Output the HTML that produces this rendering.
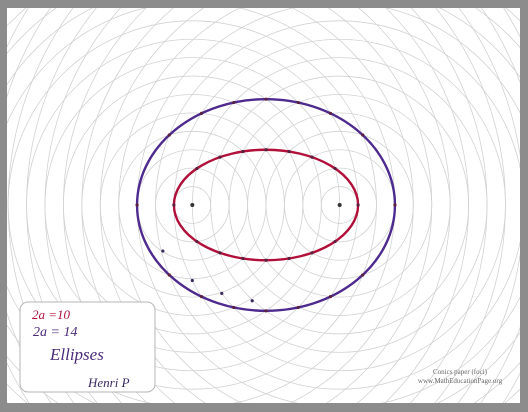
<!DOCTYPE html>
<html><head><meta charset="utf-8">
<style>
html,body{margin:0;padding:0;background:#8c8c8c;width:528px;height:412px;overflow:hidden;}
body{position:relative;font-family:"Liberation Sans",sans-serif;}
#paper{position:absolute;left:7px;top:8px;width:513px;height:395px;background:#fff;}
svg{position:absolute;left:0;top:0;display:block;}
</style></head>
<body>
<div id="paper"></div>
<svg id="chart" width="528" height="412" viewBox="0 0 528 412">
<defs><clipPath id="pc"><rect x="7" y="8" width="513" height="395"/></clipPath></defs>
<g id="circles" clip-path="url(#pc)"></g>
<g id="curves"></g>
<g id="dots"></g>
<g>
<rect x="20" y="302" width="135" height="90" rx="8" fill="#fff" stroke="#b5b5b5" stroke-width="1"/>
<text x="32" y="319" fill="#b0103a" font-size="13" font-family="Liberation Serif, serif" font-style="italic">2a =10</text>
<text x="33" y="336" fill="#4a2a7a" font-size="14" font-family="Liberation Serif, serif" font-style="italic">2a = 14</text>
<text x="50" y="360" fill="#4a2a7a" font-size="17" font-family="Liberation Serif, serif" font-style="italic">Ellipses</text>
<text x="88" y="387" fill="#3a2a60" font-size="13" font-family="Liberation Serif, serif" font-style="italic">Henri P</text>
</g>
<text x="460" y="374" fill="#666" font-size="7" text-anchor="middle" font-family="Liberation Serif, serif">Conics paper (foci)</text>
<text x="460" y="383" fill="#666" font-size="7" text-anchor="middle" font-family="Liberation Serif, serif">www.MathEducationPage.org</text>
</svg>
<script>
const focusX = [-4, 4];           // foci in units
const circleRadii = [1,2,3,4,5,6,7,8,9,10,11,12,13,14,15,16,17,18,19,20,21,22];
const majorAxes = [10, 14];        // 2a values
const curveColors = ["#b0103a", "#4e2a8e"];
const extraDotsX = [-5.6, -4, -2.4, -0.75];
const extraDotsY = [-2.5, -4.1, -4.8, -5.2];

const cx0 = 266, cy0 = 205, unit = 18.42;
const sx = v => cx0 + v * unit;
const sy = v => cy0 - v * unit;
const NS = "http://www.w3.org/2000/svg";
const mk = (t, a) => { const e = document.createElementNS(NS, t); for (const k in a) e.setAttribute(k, a[k]); return e; };

const gc = document.getElementById('circles');
focusX.forEach((f, fi) => {
  circleRadii.forEach(r => {
    const c = mk('circle', {cx: sx(f), cy: sy(0), r: r * unit, fill: 'none', stroke: '#d2d2d2', 'stroke-width': 0.8});
    
    
    gc.appendChild(c);
  });
});

const gcur = document.getElementById('curves');
const gd = document.getElementById('dots');
const cc = Math.abs(focusX[1] - focusX[0]) / 2;
majorAxes.forEach((m, i) => {
  const a = m / 2, b = Math.sqrt(a * a - cc * cc);
  const e = mk('ellipse', {cx: sx(0), cy: sy(0), rx: a * unit, ry: b * unit, fill: 'none', stroke: curveColors[i], 'stroke-width': 2.4});
  
  
  gcur.appendChild(e);
  for (let r1 = m / 2 - cc; r1 <= m / 2 + cc + 1e-9; r1++) {
    const x = (r1 * r1 - (m - r1) * (m - r1)) / (4 * cc);
    const y2 = r1 * r1 - (x + cc) * (x + cc);
    const ys = y2 > 1e-6 ? [Math.sqrt(y2), -Math.sqrt(y2)] : [0];
    ys.forEach(y => {
      const d = mk('circle', {cx: sx(x), cy: sy(y), r: 1.6, fill: '#5a2040'});
      
      
      gd.appendChild(d);
    });
  }
});
focusX.forEach(f => {
  const d = mk('circle', {cx: sx(f), cy: sy(0), r: 2, fill: '#333'});
  
  
  gd.appendChild(d);
});
extraDotsX.forEach((x, i) => {
  const d = mk('circle', {cx: sx(x), cy: sy(extraDotsY[i]), r: 1.6, fill: '#3a2a60'});
  
  
  gd.appendChild(d);
});
</script>
</body></html>
